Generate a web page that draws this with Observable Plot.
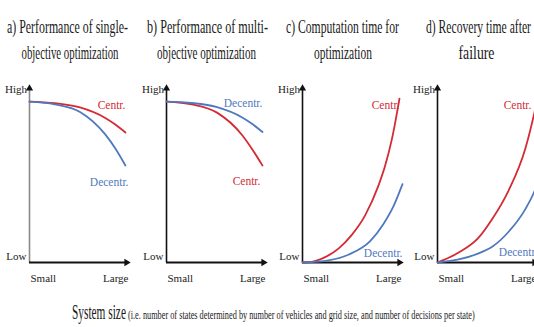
<!DOCTYPE html>
<html>
<head>
<meta charset="utf-8">
<script src="https://cdn.jsdelivr.net/npm/d3@7"></script>
<script src="https://cdn.jsdelivr.net/npm/@observablehq/plot@0.6"></script>
<style>
  html, body { margin: 0; padding: 0; background: #fff; overflow: hidden; }
  #chart { position: relative; width: 534px; height: 327px; overflow: hidden; background: #fff; }
  #chart svg { position: absolute; font-family: "Liberation Serif", "Times New Roman", "DejaVu Serif", serif; }
  #chart svg text { font-family: "Liberation Serif", "Times New Roman", "DejaVu Serif", serif; font-weight: normal; }
</style>
</head>
<body>
<div id="chart"></div>
<script>
// ---------------- data ----------------
const panelKeys = ["a", "b", "c", "d"];
const panelTitles = [
  ["a) Performance of single-", "objective optimization"],
  ["b) Performance of multi-", "objective optimization"],
  ["c) Computation time for", "optimization"],
  ["d) Recovery time after", "failure"]
];
const seriesNames = ["Centr.", "Decentr."];
const yTickLabels = ["Low", "High"];
const xTickLabels = ["Small", "Large"];
const captionMain = "System size";
const captionNote = "(i.e. number of states determined by number of vehicles and grid size, and number of decisions per state)";

// a) performance, single-objective
const xSingle = [0, 0.25, 0.5, 0.75, 0.85, 0.95];
const singleCentr = [0.904, 0.895, 0.871, 0.812, 0.775, 0.730];
const singleDecentr = [0.904, 0.889, 0.846, 0.720, 0.641, 0.545];
// b) performance, multi-objective
const xMulti = [0, 0.25, 0.5, 0.75, 0.85, 0.95];
const multiCentr = [0.904, 0.888, 0.842, 0.715, 0.635, 0.545];
const multiDecentr = [0.904, 0.896, 0.873, 0.815, 0.778, 0.733];
// c) computation time
const xCompCentr = [0, 0.092, 0.224, 0.356, 0.488, 0.62, 0.752, 0.818, 0.884, 0.96];
const compCentr = [0, 0.004, 0.03, 0.078, 0.155, 0.265, 0.432, 0.543, 0.69, 0.92];
const xCompDecentr = [0, 0.257, 0.46, 0.67, 0.8, 0.9, 0.99];
const compDecentr = [0, 0.012, 0.045, 0.12, 0.215, 0.315, 0.44];
// d) recovery time
const xRec = [0, 0.21, 0.4, 0.545, 0.7, 0.87, 0.96, 1.0];
const recCentr = [0, 0.056, 0.135, 0.247, 0.40, 0.64, 0.843, 0.95];
const recDecentr = [0, 0.017, 0.05, 0.09, 0.17, 0.30, 0.40, 0.46];

// ---------------- layout / style ----------------
const RED = "#d42a35", BLUE = "#5078be";
const panelSeries = [
  [[xSingle, singleCentr], [xSingle, singleDecentr]],
  [[xMulti, multiCentr], [xMulti, multiDecentr]],
  [[xCompCentr, compCentr], [xCompDecentr, compDecentr]],
  [[xRec, recCentr], [xRec, recDecentr]]
];
// curve label anchors (data coords, right-aligned)
const labelAnchors = [
  [[0.95, 0.882], [0.98, 0.449]],
  [[0.93, 0.455], [0.95, 0.893]],
  [[0.96, 0.882], [0.99, 0.051]],
  [[0.93, 0.882], [0.99, 0.056]]
];
const originsX = [29, 166, 302, 437];
const titleLayout = [
  [[67.5, 33, 121], [70, 59, 97]],
  [[207.5, 33, 121], [206.5, 59, 99]],
  [[342.5, 33, 113], [343, 59, 58]],
  [[478.5, 33, 105], [476.5, 59, 36]]
];
const FONT = '"Liberation Serif", "Times New Roman", "DejaVu Serif", serif';

const chart = document.getElementById("chart");

function squeeze(svg, label, s) {
  d3.select(svg).selectAll(`g[aria-label="${label}"] text`).each(function () {
    this.setAttribute("font-family", FONT);
    const t = this.getAttribute("transform");
    if (t) {
      this.setAttribute("transform", t + ` scale(${s},1)`);
    } else {
      const x = +this.getAttribute("x") || 0, y = +this.getAttribute("y") || 0;
      this.removeAttribute("x"); this.removeAttribute("y");
      this.setAttribute("transform", `translate(${x},${y}) scale(${s},1)`);
    }
  });
}

panelKeys.forEach((key, i) => {
  const rows = [];
  panelSeries[i].forEach(([xs, ys], s) => {
    xs.forEach((x, j) => rows.push({x, y: ys[j], series: seriesNames[s]}));
  });
  const labels = seriesNames.map((name, s) => ({x: labelAnchors[i][s][0], y: labelAnchors[i][s][1], series: name}));
  const axisText = [
    {x: 0, y: 1, text: yTickLabels[1], anchor: "end", dx: -2.5, dy: 5},
    {x: 0, y: 0, text: yTickLabels[0], anchor: "end", dx: -3, dy: -6},
    {x: 0, y: 0, text: xTickLabels[0], anchor: "start", dx: 1, dy: 16},
    {x: 1, y: 0, text: xTickLabels[1], anchor: "end", dx: -2, dy: 16}
  ];
  const svg = Plot.plot({
    width: 136,
    height: 225,
    marginLeft: 29,
    marginRight: 6,
    marginTop: 14,
    marginBottom: 33,
    x: {domain: [0, 1], axis: null},
    y: {domain: [0, 1], axis: null},
    color: {domain: seriesNames, range: [RED, BLUE]},
    style: {background: "transparent", overflow: "visible"},
    marks: [
      Plot.ruleX([0], {y1: 0, y2: 0.98, stroke: i === 0 ? "#8a8a8a" : "#111", strokeWidth: 1.6}),
      Plot.ruleY([0], {x1: 0, x2: 0.97, stroke: "#111", strokeWidth: 2}),
      Plot.dot([{x: 0, y: 1}], {x: "x", y: "y", symbol: "triangle", r: 2.7, fill: "#111", stroke: "none", dy: 4}),
      Plot.dot([{x: 1, y: 0}], {x: "x", y: "y", symbol: "triangle", rotate: 90, r: 2.7, fill: "#111", stroke: "none", dx: -4}),
      Plot.line(rows, {x: "x", y: "y", z: "series", stroke: "series", strokeWidth: 1.8, curve: "monotone-x"}),
      ...axisText.map(d => Plot.text([d], {x: "x", y: "y", text: "text", textAnchor: d.anchor, dx: d.dx, dy: d.dy,
        fontSize: 11, fill: "#222", ariaLabel: "axis-labels"})),
      Plot.text(labels, {x: "x", y: "y", text: "series", fill: "series", textAnchor: "end",
        fontSize: 11.5, ariaLabel: "curve-labels"})
    ]
  });
  svg.style.left = (originsX[i] - 29) + "px";
  svg.style.top = "70px";
  svg.style.fontFamily = FONT;
  chart.appendChild(svg);
  squeeze(svg, "axis-labels", 0.78);
  squeeze(svg, "curve-labels", 0.64);
});

// titles and caption
const overlay = d3.select(chart).append("svg")
  .attr("width", 534).attr("height", 327)
  .style("left", "0px").style("top", "0px")
  .attr("font-family", FONT);

function fitText(txt, x, y, w, size, anchor) {
  const t = overlay.append("text")
    .attr("font-family", FONT)
    .attr("font-size", size).attr("fill", "#1a1a1a").attr("text-anchor", anchor).text(txt);
  const len = t.node().getComputedTextLength() || 1;
  t.attr("transform", `translate(${x},${y}) scale(${w / len},1)`);
}

panelTitles.forEach((lines, i) => {
  lines.forEach((line, k) => {
    const [cx, by, w] = titleLayout[i][k];
    fitText(line, cx, by, w, 19, "middle");
  });
});
fitText(captionMain, 72, 319, 54, 20, "start");
fitText(captionNote, 128, 319, 347, 12, "start");
</script>
</body>
</html>
